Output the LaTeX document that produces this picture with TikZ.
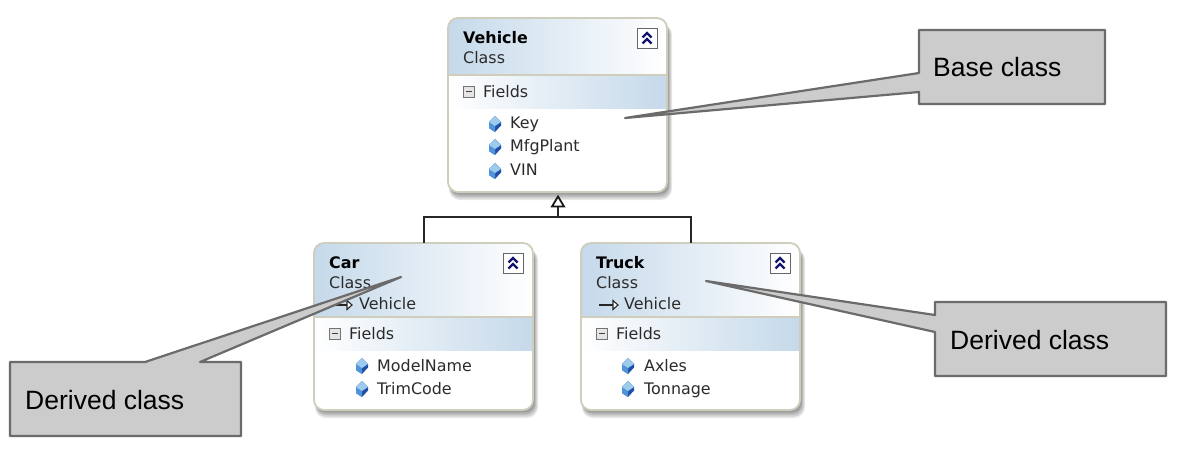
\documentclass[tikz,border=0pt]{standalone}
\usepackage{fontspec}
\setmainfont{DejaVu Sans}
\newfontfamily\callfont{Liberation Sans}
\usetikzlibrary{calc}
\definecolor{hdr}{HTML}{C5D9EA}
\definecolor{edge}{HTML}{CFCDBB}
\definecolor{txt}{HTML}{2B2B2B}
\definecolor{callfill}{HTML}{CCCCCC}
\definecolor{callline}{HTML}{6B6B6B}
\definecolor{gemA}{HTML}{9CCBEE}
\definecolor{gemC}{HTML}{4F94D8}
\definecolor{gemB}{HTML}{1F4FA8}
\definecolor{chev}{HTML}{14146E}
\tikzset{
  callout/.style={draw=callline,fill=callfill,line width=2.2pt,line join=round},
  calltext/.style={font=\callfont\fontsize{26.5}{26.5}\selectfont,text=black,anchor=base west,inner sep=0pt},
  title/.style={font=\bfseries\fontsize{15.9}{16}\selectfont,text=black,anchor=base west,inner sep=0pt},
  sub/.style={font=\fontsize{15.9}{16}\selectfont,text=txt,anchor=base west,inner sep=0pt},
  member/.style={font=\fontsize{15.9}{16}\selectfont,text=txt,anchor=base west,inner sep=0pt},
  inherit/.style={draw=black!85,line width=2pt},
  shadowlayer/.style={fill=black,opacity=.09},
}
% #1 name, #2 left x, #3 top y, #4 bottom y, #5 header bottom y
\newcommand{\classbox}[5]{%
  \fill[shadowlayer,rounded corners=11pt] (#2+1,#3+6) rectangle (#2+224,#4+8);
  \fill[shadowlayer,rounded corners=10pt] (#2+1.5,#3+6) rectangle (#2+223,#4+6.5);
  \fill[shadowlayer,rounded corners=10pt] (#2+2,#3+6) rectangle (#2+222,#4+5);
  \fill[shadowlayer,rounded corners=9pt] (#2+2,#3+6) rectangle (#2+221,#4+3.5);
  \fill[shadowlayer,rounded corners=9pt] (#2+2,#3+6) rectangle (#2+220.5,#4+2);
  \begin{scope}
    \clip[rounded corners=10pt] (#2,#3) rectangle (#2+219,#4);
    \fill[white] (#2,#3) rectangle (#2+219,#4);
    \shade[left color=hdr,right color=white] (#2,#3) rectangle (#2+219,#5);
    \shade[left color=white,right color=hdr] (#2,#5) rectangle (#2+219,#5+33);
  \end{scope}
  \draw[edge,line width=1.1pt] (#2,#5) -- (#2+219,#5);
  \draw[edge,line width=1.8pt,rounded corners=10pt] (#2,#3) rectangle (#2+219,#4);
  % collapse button
  \draw[black!60,fill=white,line width=1pt] (#2+189,#3+10) rectangle (#2+209,#3+30);
  \draw[chev,line width=2.3pt] (#2+194.5,#3+19.5) -- (#2+199,#3+15) -- (#2+203.5,#3+19.5);
  \draw[chev,line width=2.3pt] (#2+194.5,#3+25.5) -- (#2+199,#3+21) -- (#2+203.5,#3+25.5);
  % minus box
  \draw[black!55,fill=white!90!black,line width=1pt] (#2+15.5,#5+11) rectangle (#2+26.5,#5+22);
  \draw[black!75,line width=1.1pt] (#2+18,#5+16.5) -- (#2+24,#5+16.5);
}
\newcommand{\gem}[2]{%
  \fill[gemB] (#1-6,#2-2) -- (#1,#2-8) -- (#1+6,#2-2) -- (#1+6,#2+1.5) -- (#1,#2+8) -- (#1-6,#2+4) -- cycle;
  \fill[gemC] (#1-6,#2-2) -- (#1,#2+2) -- (#1,#2+8) -- (#1-6,#2+4) -- cycle;
  \fill[gemA] (#1-6,#2-2) -- (#1,#2-8) -- (#1+6,#2-2) -- (#1,#2+2) -- cycle;
}
\begin{document}
\begin{tikzpicture}[x=1pt,y=-1pt]
\useasboundingbox (0,0) rectangle (1182,448);
\fill[white] (0,0) rectangle (1182,448);

% classes
\classbox{v}{448}{18}{192}{75}
\classbox{c}{314}{243}{410}{317}
\classbox{t}{581}{243}{410}{317}

% connectors
\coordinate (jl) at (424,217);
\coordinate (jr) at (691,217);
\coordinate (jm) at (558,217);
\coordinate (tri) at (558,206);
\draw[inherit] (424,243) -- (jl) -- (jr) -- (691,243);
\draw[inherit] (jm) -- (tri);
\draw[black!90,fill=white,line width=1.8pt,line join=miter] (558,196.5) -- (552,206.5) -- (564,206.5) -- cycle;

% Vehicle text
\node[title] (vt) at (463,43) {Vehicle};
\node[sub] (vs) at (463,63) {Class};
\node[sub] (vf) at (483,97) {Fields};
\node[member] (v1) at (510,128) {Key};
\node[member] (v2) at (510,151) {MfgPlant};
\node[member] (v3) at (510,175) {VIN};
\gem{495}{124}\gem{495}{147}\gem{495}{171}

% Car text
\node[title] (ct) at (329,268) {Car};
\node[sub] (cs) at (329,288) {Class};
\node[sub] (ci) at (359,309) {Vehicle};
\node[sub] (cf) at (349,339) {Fields};
\node[member] (c1) at (377,371) {ModelName};
\node[member] (c2) at (377,394) {TrimCode};
\gem{362}{366}\gem{362}{389}
\draw[black!85,line width=1.1pt] (335,305) -- (347,305);
\draw[black!85,fill=white,line width=1.1pt] (347,300.5) -- (352,305) -- (347,309.5) -- cycle;

% Truck text
\node[title] (tt) at (596,268) {Truck};
\node[sub] (ts) at (596,288) {Class};
\node[sub] (ti) at (624,309) {Vehicle};
\node[sub] (tf) at (616,339) {Fields};
\node[member] (t1) at (644,371) {Axles};
\node[member] (t2) at (644,394) {Tonnage};
\gem{628}{366}\gem{628}{389}
\draw[black!85,line width=1.1pt] (599,305) -- (613,305);
\draw[black!85,fill=white,line width=1.1pt] (613,300.5) -- (618,305) -- (613,309.5) -- cycle;

% callouts
\draw[callout] (919,30) -- (1105,30) -- (1105,104) -- (919,104) -- (919,92) -- (625,118) -- (919,73) -- cycle;
\node[calltext] (b) at (933,76) {Base class};

\draw[callout] (10,362) -- (145,362) -- (401,277) -- (200,362) -- (241,362) -- (241,436) -- (10,436) -- cycle;
\node[calltext] (d1) at (25,409) {Derived class};

\draw[callout] (935,302) -- (1166,302) -- (1166,376) -- (935,376) -- (935,332) -- (706,281) -- (935,315) -- cycle;
\node[calltext] (d2) at (950,349) {Derived class};
\end{tikzpicture}
\end{document}
